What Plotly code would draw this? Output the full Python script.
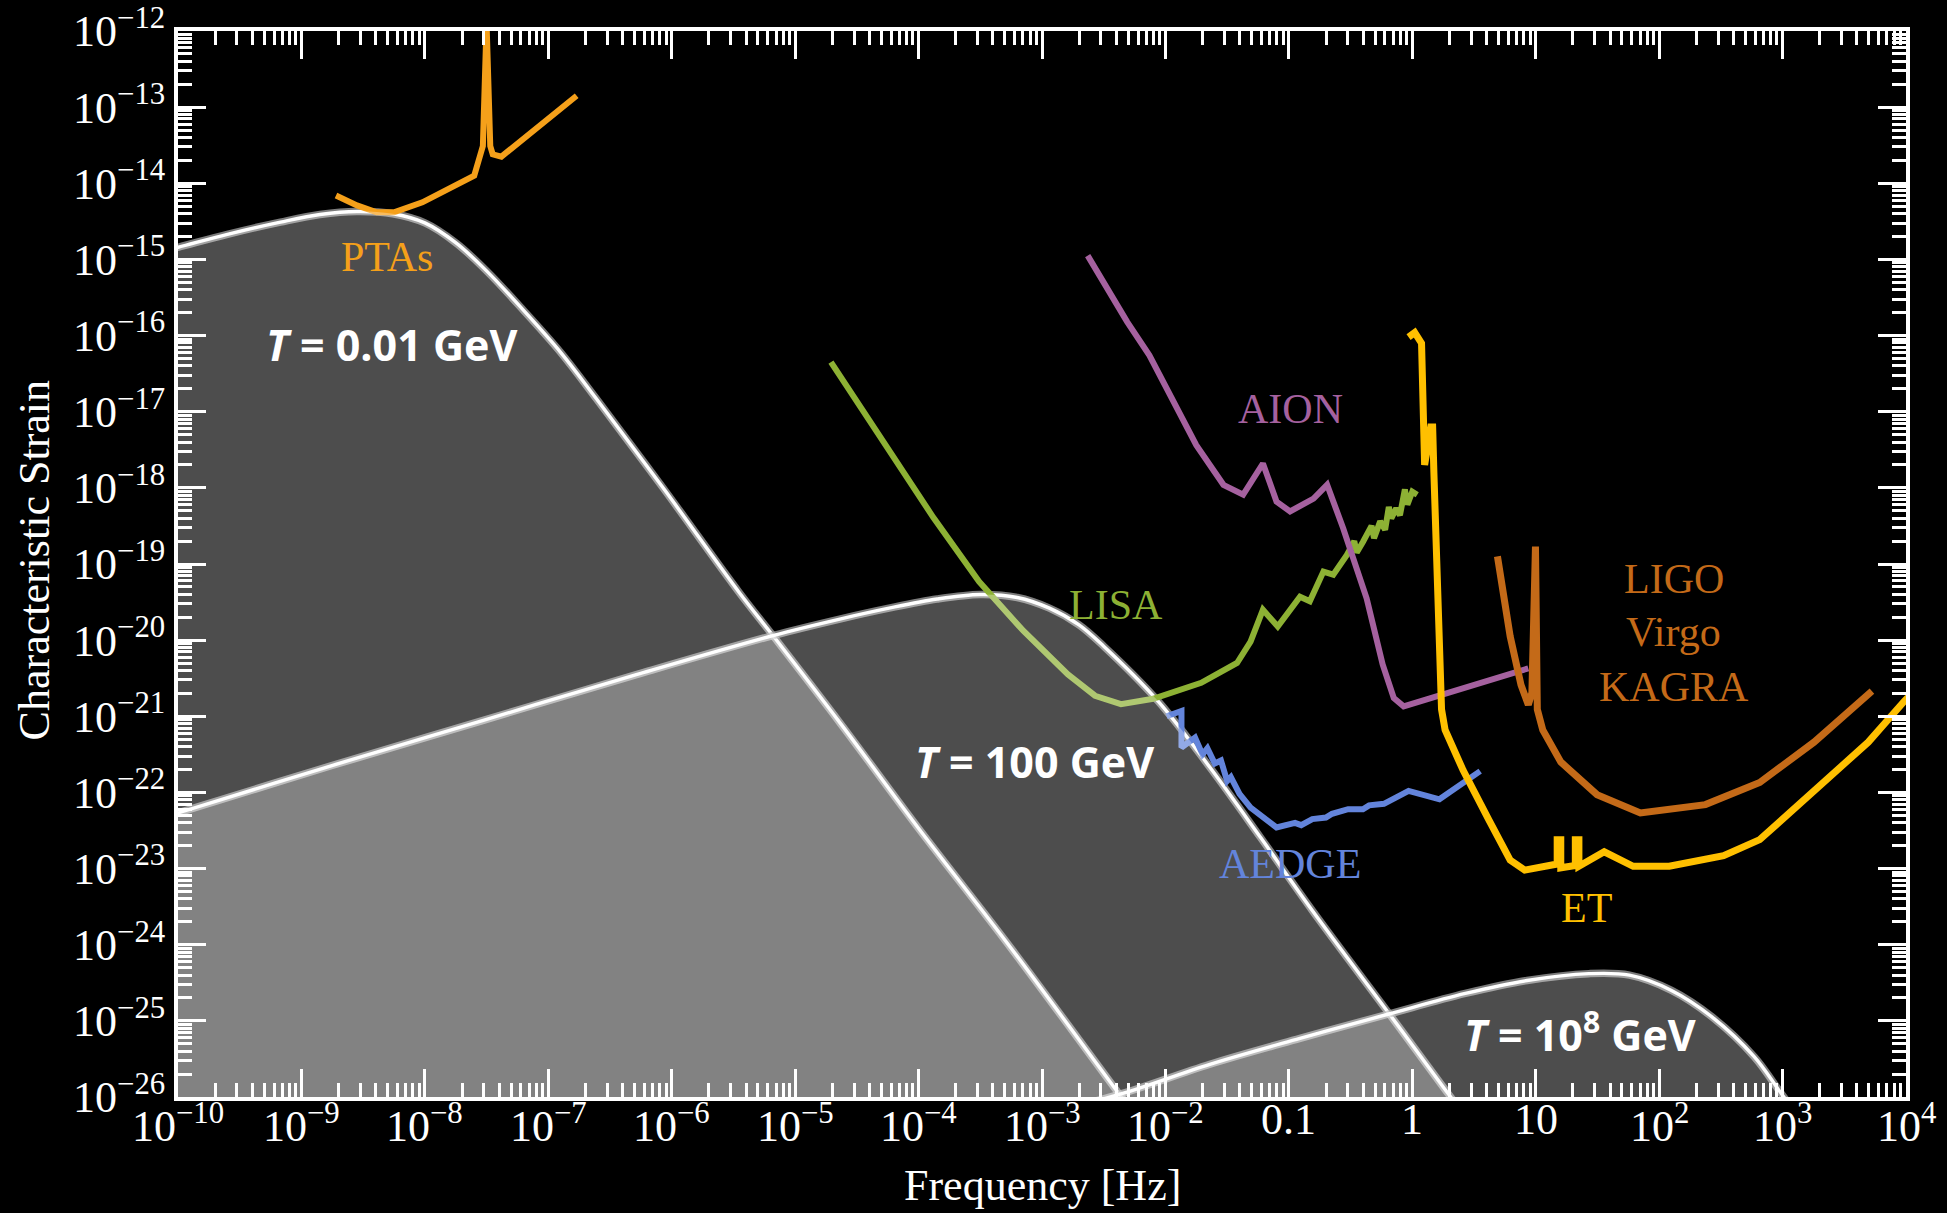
import plotly.graph_objects as go

# ---------------------------------------------------------------
# Detector sensitivity curves: log10(f / Hz) and log10(h_c)
# ---------------------------------------------------------------
pta_logf = [-8.72, -8.55, -8.39, -8.25, -8.02, -7.60, -7.53, -7.50, -7.47, -7.45, -7.38, -6.77]
pta_logh = [-14.16, -14.29, -14.38, -14.38, -14.25, -13.90, -13.51, -11.90, -13.51, -13.62, -13.65, -12.85]

lisa_logf = [-4.71, -4.24, -3.88, -3.51, -3.15, -2.79, -2.57, -2.36, -2.10, -1.71, -1.42, -1.31,
             -1.21, -1.09, -0.91, -0.83, -0.72, -0.64, -0.53, -0.47, -0.45, -0.40, -0.33, -0.31,
             -0.26, -0.22, -0.19, -0.17, -0.13, -0.10, -0.06, -0.04, 0.00, 0.04]
lisa_logh = [-16.35, -17.50, -18.39, -19.23, -19.88, -20.45, -20.73, -20.84, -20.77, -20.56, -20.30, -20.02,
             -19.60, -19.82, -19.43, -19.49, -19.10, -19.14, -18.88, -18.70, -18.85, -18.71, -18.50, -18.66,
             -18.44, -18.55, -18.25, -18.40, -18.27, -18.36, -18.02, -18.22, -18.05, -18.09]

aion_logf = [-2.63, -2.50, -2.31, -2.13, -1.94, -1.75, -1.64, -1.53, -1.37, -1.21, -1.10, -0.99,
             -0.80, -0.69, -0.56, -0.37, -0.24, -0.15, -0.07, 0.71, 0.94]
aion_logh = [-14.95, -15.30, -15.82, -16.26, -16.83, -17.44, -17.70, -17.96, -18.09, -17.68, -18.18, -18.31,
             -18.14, -17.96, -18.53, -19.45, -20.32, -20.76, -20.87, -20.47, -20.37]

aedge_logf = [-1.99, -1.87, -1.87, -1.76, -1.70, -1.66, -1.60, -1.55, -1.50, -1.47, -1.40, -1.31,
              -1.10, -0.95, -0.90, -0.81, -0.70, -0.65, -0.52, -0.40, -0.35, -0.23, -0.03, 0.22, 0.55]
aedge_logh = [-21.00, -20.93, -21.41, -21.28, -21.50, -21.42, -21.62, -21.58, -21.85, -21.80, -22.02, -22.20,
              -22.46, -22.40, -22.43, -22.35, -22.33, -22.28, -22.22, -22.22, -22.17, -22.15, -21.98, -22.09, -21.72]

et_logf = [-0.03, 0.02, 0.075, 0.100, 0.150, 0.165, 0.175, 0.207, 0.237, 0.266, 0.412, 0.617, 0.793, 0.911,
           1.116, 1.174, 1.174, 1.203, 1.203, 1.321, 1.321, 1.350, 1.350, 1.555, 1.790, 2.082, 2.522,
           2.815, 3.255, 3.694, 3.987, 4.10]
et_logh = [-16.02, -15.96, -16.10, -17.70, -17.20, -17.20, -17.80, -19.84, -20.91, -21.18, -21.71, -22.35, -22.89, -23.02,
           -22.94, -22.94, -22.62, -22.62, -22.99, -22.96, -22.62, -22.62, -22.97, -22.78, -22.97, -22.97, -22.83,
           -22.62, -21.98, -21.34, -20.80, -20.62]

ligo_logf = [0.690, 0.793, 0.881, 0.940, 0.969, 0.998, 1.013, 1.057, 1.203, 1.497, 1.848, 2.375, 2.815, 3.255, 3.724]
ligo_logh = [-18.90, -19.95, -20.59, -20.85, -20.69, -18.77, -20.91, -21.18, -21.60, -22.03, -22.27, -22.16,
             -21.87, -21.34, -20.67]

# ---------------------------------------------------------------
# Phase-transition signal spectra for three temperatures
# ---------------------------------------------------------------
t001_logf = [-10.15, -10.0, -9.6, -9.17, -8.85, -8.55, -8.26, -8.0, -7.75, -7.5, -7.2, -6.9, -6.61, -6.07,
             -5.45, -5.18, -4.63, -4.01, -3.29, -2.38, -2.15]
t001_logh = [-14.90, -14.84, -14.67, -14.51, -14.41, -14.37, -14.40, -14.52, -14.78, -15.15, -15.67, -16.22,
             -16.83, -18.00, -19.38, -19.94, -21.10, -22.45, -23.96, -25.95, -26.45]

t100_logf = [-10.15, -10.0, -8.76, -7.52, -6.28, -5.18, -4.63, -4.24, -3.85, -3.5, -3.2, -2.94, -2.70,
             -2.50, -2.06, -1.64, -1.23, -0.81, -0.19, 0.27, 0.45]
t100_logh = [-22.34, -22.27, -21.65, -21.05, -20.45, -19.94, -19.72, -19.58, -19.46, -19.40, -19.44, -19.58, -19.80,
             -20.08, -20.80, -21.67, -22.59, -23.55, -24.90, -25.91, -26.30]

t1e8_logf = [-2.8, -2.34, -1.64, -0.91, -0.19, 0.43, 0.93, 1.43, 1.76, 2.10, 2.43, 2.77, 2.97, 3.1]
t1e8_logh = [-26.15, -25.95, -25.57, -25.23, -24.91, -24.64, -24.47, -24.38, -24.40, -24.60, -24.95, -25.47,
             -25.91, -26.20]

# Axis tick labels
x_decades = list(range(-10, 5))
x_ticktext = ["10<sup>−10</sup>", "10<sup>−9</sup>", "10<sup>−8</sup>", "10<sup>−7</sup>", "10<sup>−6</sup>",
              "10<sup>−5</sup>", "10<sup>−4</sup>", "10<sup>−3</sup>", "10<sup>−2</sup>", "0.1", "1", "10",
              "10<sup>2</sup>", "10<sup>3</sup>", "10<sup>4</sup>"]
y_decades = list(range(-26, -11))
y_ticktext = ["10<sup>−%d</sup>" % (-d) for d in y_decades]


def lin(vals):
    return [10.0 ** v for v in vals]


SERIF = "Liberation Serif"
fig = go.Figure()

# White outlines of the spectra (drawn first so the detector curves sit above them)
spectra = [(t001_logf, t001_logh), (t100_logf, t100_logh), (t1e8_logf, t1e8_logh)]
for lf, lh in spectra:
    fig.add_trace(go.Scatter(x=lin(lf), y=lin(lh), mode="lines",
                             line=dict(color="rgba(175,175,175,0.7)", width=7.5, shape="spline"),
                             hoverinfo="skip", showlegend=False))
    fig.add_trace(go.Scatter(x=lin(lf), y=lin(lh), mode="lines",
                             line=dict(color="white", width=3.4, shape="spline"),
                             hoverinfo="skip", showlegend=False))

# Detector sensitivity curves
detectors = [
    (pta_logf, pta_logh, "#F5A01A", 6),
    (lisa_logf, lisa_logh, "#8DB134", 6),
    (aion_logf, aion_logh, "#A5619F", 6),
    (aedge_logf, aedge_logh, "#6384DB", 6),
    (et_logf, et_logh, "#FFC000", 7),
    (ligo_logf, ligo_logh, "#C46A18", 7),
]
for lf, lh, col, w in detectors:
    fig.add_trace(go.Scatter(x=lin(lf), y=lin(lh), mode="lines",
                             line=dict(color=col, width=w, shape="linear"),
                             hoverinfo="skip", showlegend=False))

# Translucent shaded regions under each spectrum (overlaps add up to a lighter grey)
for lf, lh in spectra:
    xs = lin(lf) + [10.0 ** lf[-1], 10.0 ** lf[0]]
    ys = lin(lh) + [1e-28, 1e-28]
    fig.add_trace(go.Scatter(x=xs, y=ys, mode="lines", fill="toself",
                             fillcolor="rgba(255,255,255,0.30)",
                             line=dict(width=0, color="rgba(0,0,0,0)", shape="spline"),
                             hoverinfo="skip", showlegend=False))

# Text labels (positions in log10 units)
def label(x, y, text, color, size=42, family=SERIF):
    fig.add_annotation(x=x, y=y, xref="x", yref="y", text=text, showarrow=False,
                       font=dict(family=family, size=size, color=color),
                       xanchor="center", yanchor="middle")

label(-8.31, -14.97, "PTAs", "#F5A01A")
label(-2.40, -19.54, "LISA", "#8DB134")
label(-0.99, -16.97, "AION", "#A5619F")
label(-0.99, -22.94, "AEDGE", "#6384DB")
label(1.41, -23.52, "ET", "#FFC000")
label(2.12, -19.20, "LIGO", "#C46A18")
label(2.12, -19.89, "Virgo", "#C46A18")
label(2.12, -20.62, "KAGRA", "#C46A18")

label(-8.27, -16.12, "<b><i>T</i> = 0.01 GeV</b>", "white", size=43, family="Open Sans")
label(-3.06, -21.59, "<b><i>T</i> = 100 GeV</b>", "white", size=43, family="Open Sans")
label(1.36, -25.15, "<b><i>T</i> = 10<sup>8</sup> GeV</b>", "white", size=43, family="Open Sans")

# Frequency tick labels, placed at the decade positions below the frame;
# plain numbers sit a little higher than the powers of ten
for d, txt in zip(x_decades, x_ticktext):
    has_power = "<sup>" in txt
    fig.add_annotation(x=d, y=-0.0530 if has_power else -0.0455, xref="x", yref="paper",
                       text=txt, showarrow=False,
                       font=dict(family=SERIF, size=44, color="white"),
                       xanchor="center", yanchor="bottom")

# Axis titles
fig.add_annotation(x=0.5, y=-0.0828, xref="paper", yref="paper", text="Frequency [Hz]",
                   showarrow=False, font=dict(family=SERIF, size=44, color="white"),
                   xanchor="center", yanchor="middle")
fig.add_annotation(x=-0.083, y=0.503, xref="paper", yref="paper", text="Characteristic Strain",
                   showarrow=False, textangle=-90, font=dict(family=SERIF, size=44, color="white"),
                   xanchor="center", yanchor="middle")

x_minor = [k * 10.0 ** d for d in range(-10, 4) for k in range(2, 10)]
y_minor = [k * 10.0 ** d for d in range(-26, -12) for k in range(2, 10)]

axis_common = dict(type="log", showgrid=False, zeroline=False, showline=True, linecolor="white",
                   linewidth=4, mirror="allticks", ticks="inside", ticklen=28, tickwidth=3,
                   tickcolor="white", tickfont=dict(family=SERIF, size=44, color="white"),
                   automargin=False)

fig.update_xaxes(range=[-10, 4], tickvals=[10.0 ** d for d in x_decades], showticklabels=False,
                 minor=dict(tickvals=x_minor, ticks="inside", ticklen=14, tickwidth=2.5,
                            tickcolor="white", showgrid=False),
                 **axis_common)
fig.update_yaxes(range=[-26, -12], tickvals=[10.0 ** d for d in y_decades], ticktext=y_ticktext,
                 ticklabeloverflow="allow",
                 minor=dict(tickvals=y_minor, ticks="inside", ticklen=14, tickwidth=2.5,
                            tickcolor="white", showgrid=False),
                 **axis_common)

fig.update_layout(width=1947, height=1213, paper_bgcolor="black", plot_bgcolor="black",
                  margin=dict(l=178, r=41, t=31, b=116, autoexpand=False), showlegend=False)

fig.write_html("out.html")
